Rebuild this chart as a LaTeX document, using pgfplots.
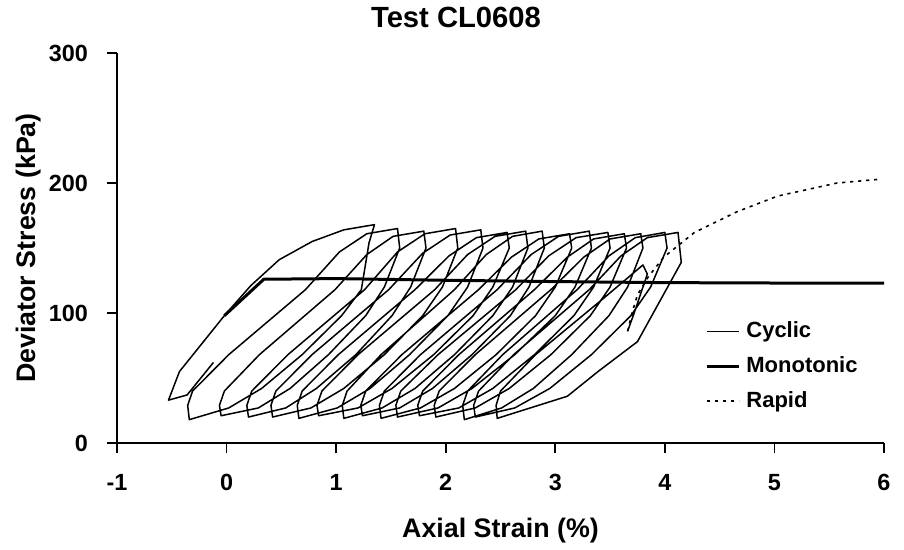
\documentclass[border=0pt]{standalone}
\usepackage{pgfplots}
\pgfplotsset{compat=1.18}
\usepackage{fontspec}
\setmainfont{Liberation Sans}
\begin{document}
\begin{tikzpicture}
\begin{axis}[
  scale only axis,
  width=383.5pt, height=195pt,
  xmin=-1, xmax=6, ymin=0, ymax=300,
  xtick={-1,0,1,2,3,4,5,6},
  ytick={0,100,200,300},
  axis x line*=bottom, axis y line*=left,
  axis line style={line width=1pt},
  tick style={line width=0.9pt, black},
  tick align=outside,
  major tick length=5pt,
  /pgf/number format/assume math mode=true,
  ticklabel style={font=\fontsize{11.7}{14}\selectfont\bfseries},
  yticklabel style={xshift=-6pt},
  xticklabel style={yshift=-7pt},
  title={Test CL0608},
  title style={font=\fontsize{14.6}{17}\selectfont\bfseries,
    at={(rel axis cs:0.442,1)}, anchor=base, yshift=7pt},
  xlabel={Axial Strain (\%)},
  ylabel={Deviator Stress (kPa)},
  xlabel style={font=\fontsize{13.4}{16}\selectfont\bfseries,
    at={(rel axis cs:0.5,0)}, anchor=base, yshift=-47pt},
  ylabel style={font=\fontsize{13.4}{16}\selectfont\bfseries,
    at={(rel axis cs:-0.1069,0.5)}, anchor=base, rotate=0},
  legend style={draw=none, fill=none, at={(rel axis cs:0.7666,0.317)}, anchor=north west,
    font=\fontsize{11}{13}\selectfont\bfseries, row sep=6pt, inner xsep=0pt, inner ysep=0pt,
    nodes={inner xsep=3pt, inner ysep=1pt}},
  legend cell align=left,
  legend image code/.code={\draw[#1] (0pt,0pt) -- (16pt,0pt);},
]
\addplot[black, line width=0.75pt, line join=round] coordinates {
(-0.12,62)(-0.36,37)(-0.53,33)(-0.43,55)(-0.02,98)(0.22,121)(0.48,141)(0.78,155)(1.07,164)(1.35,168)
(1.30,154)(1.23,118)(1.05,98)(0.69,68)(0.32,42)(0.02,27)(-0.34,18)
(-0.355,29)(-0.31,40)(0.02,68)(0.72,118)(1.03,147)(1.28,161)(1.56,165)
(1.58,150)(1.44,120)(1.27,98)(0.93,68)(0.58,42)(0.29,27)(-0.05,21)
(-0.065,29)(-0.02,40)(0.30,68)(0.99,118)(1.28,145)(1.52,159)(1.80,163)
(1.82,150)(1.68,120)(1.51,98)(1.18,68)(0.82,42)(0.54,27)(0.20,20)
(0.185,29)(0.23,40)(0.56,68)(1.26,118)(1.56,147)(1.81,161)(2.09,165)
(2.11,150)(1.97,120)(1.79,98)(1.44,68)(1.07,42)(0.77,27)(0.42,20)
(0.405,29)(0.45,40)(0.78,68)(1.48,118)(1.79,146)(2.04,160)(2.32,164)
(2.34,150)(2.20,120)(2.02,98)(1.67,68)(1.31,42)(1.01,27)(0.66,19)
(0.645,29)(0.69,40)(1.02,68)(1.72,118)(2.03,144)(2.28,158)(2.56,162)
(2.58,150)(2.43,120)(2.25,98)(1.89,68)(1.51,42)(1.20,27)(0.84,21)
(0.825,29)(0.87,40)(1.20,68)(1.90,118)(2.20,145)(2.45,159)(2.73,163)
(2.75,150)(2.61,120)(2.43,98)(2.08,68)(1.72,42)(1.42,27)(1.07,19)
(1.056,29)(1.10,40)(1.41,68)(2.08,118)(2.37,145)(2.61,159)(2.88,163)
(2.90,150)(2.76,120)(2.59,98)(2.24,68)(1.88,42)(1.58,27)(1.24,21)
(1.225,29)(1.27,40)(1.60,68)(2.30,118)(2.60,143)(2.85,157)(3.13,161)
(3.15,150)(3.00,120)(2.82,98)(2.46,68)(2.08,42)(1.77,27)(1.41,19)
(1.395,29)(1.44,40)(1.77,68)(2.47,118)(2.78,145)(3.03,159)(3.31,163)
(3.33,150)(3.18,120)(3.00,98)(2.63,68)(2.24,42)(1.93,27)(1.56,20)
(1.545,29)(1.59,40)(1.93,68)(2.64,118)(2.94,144)(3.19,158)(3.48,162)
(3.50,150)(3.35,120)(3.17,98)(2.81,68)(2.43,42)(2.12,27)(1.76,21)
(1.745,29)(1.79,40)(2.12,68)(2.81,118)(3.11,143)(3.35,157)(3.63,161)
(3.65,150)(3.50,120)(3.32,98)(2.96,68)(2.58,42)(2.27,27)(1.91,20)
(1.895,29)(1.94,40)(2.27,68)(2.96,118)(3.26,143)(3.50,157)(3.78,161)
(3.80,150)(3.66,120)(3.49,98)(3.15,68)(2.80,42)(2.51,27)(2.17,18)
(2.155,29)(2.20,40)(2.52,68)(3.20,118)(3.49,144)(3.73,158)(4.00,162)
(4.02,150)(3.87,120)(3.69,98)(3.33,68)(2.95,42)(2.63,27)(2.27,20)
(2.255,29)(2.30,40)(2.62,68)(3.31,118)(3.60,144)(3.84,158)(4.12,162)
(4.15,139)(3.75,78)(3.39,55)(3.11,36)(2.47,19)
(2.46,29)(2.50,40)(2.82,68)(3.45,112)(3.80,137)(3.84,130)(3.72,100)(3.66,86)
};
\addlegendentry{Cyclic}
\addplot[black, line width=1.5pt] coordinates {
(-0.02,98)(0.34,126)(1,126.5)(2,125.2)(3,124.2)(4,123.4)(5,123.1)(6,123)
};
\addlegendentry{Monotonic}
\addplot[black, line width=0.8pt, dash pattern=on 1.6pt off 2.4pt] coordinates {
(3.66,86)(3.70,100)(3.75,114)(3.85,128)(3.99,143)(4.27,162)(4.66,178)(5.03,190)(5.57,200)(5.97,203)
};
\addlegendentry{Rapid}
\end{axis}
\path (-58.5pt,-52pt) rectangle (393.5pt,221.5pt);
\end{tikzpicture}
\end{document}
